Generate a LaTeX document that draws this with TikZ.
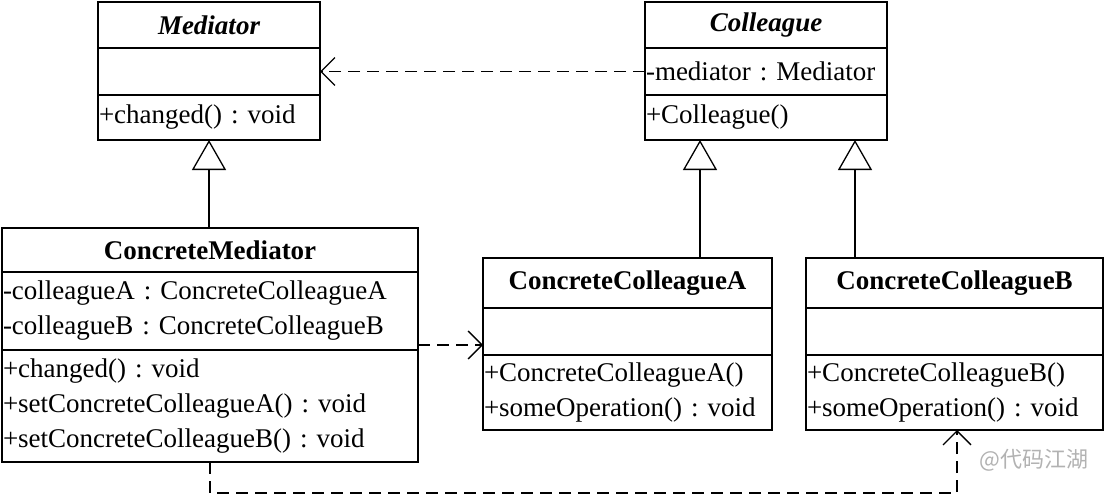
\documentclass[tikz,border=0pt]{standalone}
\usepackage{fontspec}
\setmainfont{Liberation Serif}
\newfontfamily\cjk{Noto Sans CJK SC}
\usetikzlibrary{arrows.meta}
\frenchspacing
\begin{document}
\begin{tikzpicture}[x=1pt,y=-1pt,
  cell/.style={draw,line width=1.3pt,rectangle,anchor=north west,inner sep=0pt,outer sep=0pt,align=left,font=\fontsize{27}{35}\selectfont},
  title/.style={cell,align=center,font=\fontsize{27}{35}\selectfont\bfseries},
  dep/.style={line width=1.3pt,dash pattern=on 12pt off 7pt,-{Straight Barb[length=14pt,width=28pt,line width=1.3pt]}},
  inh/.style={line width=1.3pt,-{Triangle[open,length=30pt,width=34pt,line width=1.3pt]}}]
\useasboundingbox (0,0) rectangle (1107,500);
% Mediator
\node[title,minimum width=222pt,minimum height=46pt,font=\fontsize{27}{35}\selectfont\bfseries\itshape] (medT) at (98,2) {Mediator};
\node[cell,minimum width=222pt,minimum height=47pt] (medA) at (98,48) {};
\node[cell,minimum width=222pt,minimum height=45pt,text width=220pt] (medM) at (98,95) {+changed() : void};
% Colleague
\node[title,minimum width=242pt,minimum height=46pt,font=\fontsize{27}{35}\selectfont\bfseries\itshape] (colT) at (645,2) {Colleague};
\node[cell,minimum width=242pt,minimum height=47pt,text width=240pt] (colA) at (645,48) {-mediator : Mediator};
\node[cell,minimum width=242pt,minimum height=45pt,text width=240pt] (colM) at (645,95) {+Colleague()};
% ConcreteMediator
\node[title,minimum width=416pt,minimum height=44pt] (cmT) at (2,228) {ConcreteMediator};
\node[cell,minimum width=416pt,minimum height=78pt,text width=414pt] (cmA) at (2,272) {-colleagueA : ConcreteColleagueA\\-colleagueB : ConcreteColleagueB};
\node[cell,minimum width=416pt,minimum height=112pt,text width=414pt] (cmM) at (2,350) {+changed() : void\\+setConcreteColleagueA() : void\\+setConcreteColleagueB() : void};
% CCA
\node[title,minimum width=289pt,minimum height=50pt] (caT) at (483,258) {ConcreteColleagueA};
\node[cell,minimum width=289pt,minimum height=47pt] (caA) at (483,308) {};
\node[cell,minimum width=289pt,minimum height=75pt,text width=287pt] (caM) at (483,355) {+ConcreteColleagueA()\\+someOperation() : void};
% CCB
\node[title,minimum width=297pt,minimum height=50pt] (cbT) at (806,258) {ConcreteColleagueB};
\node[cell,minimum width=297pt,minimum height=47pt] (cbA) at (806,308) {};
\node[cell,minimum width=297pt,minimum height=75pt,text width=295pt] (cbM) at (806,355) {+ConcreteColleagueB()\\+someOperation() : void};
% connectors
\draw[dep] (colA.west) -- (medA.east);
\draw[inh] (cmT.north -| medM.south) -- (medM.south);
\draw[inh] (caT.north -| 700,0) -- (colM.south -| 700,0);
\draw[inh] (cbT.north -| 855,0) -- (colM.south -| 855,0);
\draw[dep] (cmA.east |- 0,345) -- (caA.west |- 0,345);
\coordinate (b1) at (210,493);
\coordinate (b2) at (957,493);
\draw[dep] (cmM.south -| b1) -- (b1) -- (b2) -- (cbM.south -| b2);
\node[anchor=east,text=gray!60,font=\cjk\fontsize{22}{26}\selectfont] (wm) at (1092,460) {@代码江湖};
\end{tikzpicture}
\end{document}
